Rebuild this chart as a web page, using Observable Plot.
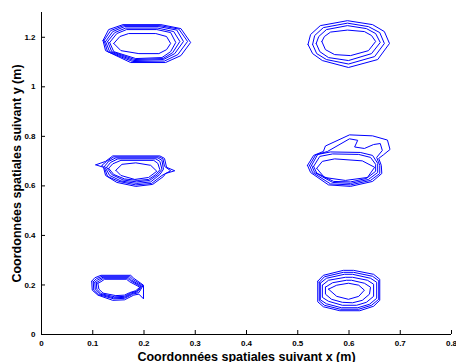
<!DOCTYPE html>
<html>
<head>
<meta charset="utf-8">
<script src="https://cdn.jsdelivr.net/npm/d3@7"></script>
<script src="https://cdn.jsdelivr.net/npm/@observablehq/plot@0.6"></script>
<style>
  html, body { margin: 0; padding: 0; background: #fff; }
  #chart svg { display: block; }
</style>
</head>
<body>
<div id="chart"></div>
<script>
// Tick values and labels
const xTicks = [0, 0.1, 0.2, 0.3, 0.4, 0.5, 0.6, 0.7, 0.8];
const xTickLabels = ["0", "0.1", "0.2", "0.3", "0.4", "0.5", "0.6", "0.7", "0.8"];
const yTicks = [0, 0.2, 0.4, 0.6, 0.8, 1, 1.2];
const yTickLabels = ["0", "0.2", "0.4", "0.6", "0.8", "1", "1.2"];
const xLabel = "Coordonnées spatiales suivant x (m)";
const yLabel = "Coordonnées spatiales suivant y (m)";

// Contour rings (x, y in metres), one array per cluster
const topLeftRings = [
  [[0.120,1.187],[0.125,1.146],[0.174,1.098],[0.242,1.098],[0.272,1.126],[0.291,1.179],[0.272,1.235],[0.233,1.251],[0.159,1.251],[0.131,1.231]],
  [[0.122,1.187],[0.129,1.142],[0.178,1.102],[0.240,1.104],[0.266,1.130],[0.285,1.183],[0.268,1.233],[0.231,1.247],[0.160,1.247],[0.135,1.227]],
  [[0.125,1.183],[0.133,1.142],[0.180,1.106],[0.238,1.110],[0.260,1.134],[0.277,1.183],[0.264,1.229],[0.229,1.243],[0.162,1.243],[0.139,1.223]],
  [[0.129,1.183],[0.137,1.142],[0.182,1.110],[0.237,1.114],[0.256,1.138],[0.270,1.183],[0.258,1.223],[0.227,1.237],[0.164,1.237],[0.143,1.219]],
  [[0.133,1.179],[0.141,1.142],[0.184,1.114],[0.235,1.118],[0.252,1.142],[0.262,1.179],[0.252,1.219],[0.225,1.231],[0.166,1.231],[0.147,1.215]],
  [[0.141,1.175],[0.155,1.146],[0.190,1.134],[0.229,1.134],[0.244,1.150],[0.252,1.175],[0.244,1.203],[0.223,1.215],[0.170,1.215],[0.153,1.203]]
];
const topRightRings = [
  [[0.520,1.171],[0.529,1.134],[0.548,1.106],[0.599,1.078],[0.656,1.110],[0.679,1.175],[0.669,1.223],[0.646,1.251],[0.597,1.267],[0.544,1.247],[0.525,1.211]],
  [[0.529,1.171],[0.537,1.134],[0.556,1.110],[0.599,1.092],[0.650,1.122],[0.669,1.175],[0.660,1.219],[0.638,1.243],[0.597,1.257],[0.550,1.239],[0.533,1.207]],
  [[0.536,1.175],[0.543,1.142],[0.560,1.118],[0.599,1.106],[0.644,1.134],[0.661,1.179],[0.652,1.215],[0.634,1.235],[0.597,1.247],[0.556,1.231],[0.541,1.203]],
  [[0.547,1.183],[0.554,1.150],[0.572,1.130],[0.603,1.126],[0.638,1.146],[0.652,1.183],[0.644,1.207],[0.630,1.223],[0.597,1.229],[0.564,1.221],[0.552,1.203]]
];
const midLeftRings = [
  [[0.106,0.685],[0.121,0.675],[0.125,0.642],[0.147,0.614],[0.184,0.598],[0.217,0.606],[0.238,0.638],[0.242,0.650],[0.260,0.661],[0.244,0.675],[0.240,0.711],[0.231,0.721],[0.139,0.721],[0.125,0.699]],
  [[0.118,0.683],[0.123,0.671],[0.129,0.638],[0.151,0.618],[0.184,0.604],[0.215,0.610],[0.235,0.642],[0.252,0.661],[0.240,0.679],[0.237,0.709],[0.229,0.717],[0.141,0.717],[0.127,0.699]],
  [[0.123,0.679],[0.133,0.642],[0.155,0.620],[0.186,0.610],[0.213,0.616],[0.231,0.646],[0.238,0.667],[0.235,0.703],[0.227,0.713],[0.145,0.713],[0.131,0.699]],
  [[0.127,0.675],[0.137,0.646],[0.159,0.624],[0.186,0.616],[0.211,0.622],[0.227,0.646],[0.235,0.667],[0.231,0.699],[0.223,0.709],[0.149,0.709],[0.135,0.695]],
  [[0.131,0.671],[0.141,0.646],[0.162,0.628],[0.188,0.622],[0.209,0.626],[0.223,0.646],[0.231,0.665],[0.227,0.691],[0.219,0.703],[0.155,0.703],[0.139,0.689]],
  [[0.145,0.663],[0.155,0.642],[0.182,0.626],[0.209,0.634],[0.225,0.659],[0.213,0.683],[0.184,0.693],[0.157,0.687]]
];
const midRightRings = [
  [[0.519,0.683],[0.531,0.723],[0.550,0.739],[0.554,0.761],[0.601,0.806],[0.646,0.802],[0.675,0.785],[0.680,0.747],[0.667,0.725],[0.658,0.711],[0.663,0.683],[0.664,0.650],[0.646,0.618],[0.603,0.598],[0.560,0.604],[0.525,0.654]],
  [[0.523,0.683],[0.535,0.725],[0.558,0.739],[0.601,0.790],[0.617,0.784],[0.611,0.757],[0.630,0.751],[0.648,0.767],[0.661,0.771],[0.665,0.743],[0.654,0.715],[0.660,0.683],[0.660,0.650],[0.642,0.622],[0.603,0.604],[0.564,0.608],[0.529,0.654]],
  [[0.527,0.683],[0.539,0.727],[0.564,0.737],[0.622,0.735],[0.646,0.723],[0.656,0.691],[0.656,0.654],[0.638,0.626],[0.603,0.610],[0.568,0.614],[0.533,0.654]],
  [[0.531,0.679],[0.543,0.719],[0.568,0.729],[0.619,0.727],[0.642,0.715],[0.652,0.687],[0.652,0.659],[0.634,0.630],[0.603,0.616],[0.570,0.618],[0.537,0.652]],
  [[0.537,0.671],[0.548,0.699],[0.572,0.709],[0.626,0.701],[0.650,0.675],[0.636,0.634],[0.593,0.622],[0.552,0.634]]
];
const bottomLeftRings = [
  [[0.098,0.215],[0.099,0.179],[0.110,0.159],[0.139,0.138],[0.162,0.140],[0.180,0.159],[0.190,0.163],[0.199,0.144],[0.199,0.199],[0.180,0.227],[0.174,0.239],[0.116,0.239],[0.104,0.229]],
  [[0.101,0.213],[0.102,0.179],[0.111,0.161],[0.141,0.144],[0.162,0.146],[0.178,0.163],[0.190,0.169],[0.198,0.197],[0.178,0.223],[0.172,0.235],[0.118,0.235],[0.107,0.225]],
  [[0.104,0.211],[0.105,0.181],[0.114,0.163],[0.141,0.148],[0.162,0.150],[0.176,0.165],[0.188,0.173],[0.196,0.195],[0.176,0.219],[0.170,0.231],[0.120,0.231],[0.110,0.221]],
  [[0.107,0.209],[0.108,0.183],[0.116,0.165],[0.143,0.152],[0.162,0.154],[0.174,0.167],[0.186,0.175],[0.194,0.193],[0.174,0.217],[0.168,0.227],[0.121,0.227],[0.113,0.217]],
  [[0.110,0.207],[0.112,0.183],[0.120,0.167],[0.145,0.157],[0.162,0.159],[0.172,0.169],[0.184,0.177],[0.192,0.191],[0.172,0.213],[0.166,0.223],[0.123,0.223],[0.116,0.213]]
];
const bottomRightRings = [
  [[0.539,0.215],[0.550,0.239],[0.589,0.259],[0.609,0.259],[0.648,0.243],[0.660,0.223],[0.660,0.138],[0.648,0.114],[0.621,0.096],[0.582,0.096],[0.550,0.112],[0.539,0.132]],
  [[0.542,0.211],[0.552,0.233],[0.589,0.251],[0.609,0.251],[0.646,0.235],[0.658,0.217],[0.658,0.142],[0.644,0.118],[0.619,0.102],[0.583,0.102],[0.552,0.118],[0.542,0.136]],
  [[0.544,0.207],[0.556,0.227],[0.591,0.243],[0.607,0.243],[0.642,0.227],[0.654,0.211],[0.654,0.146],[0.640,0.122],[0.617,0.108],[0.585,0.108],[0.556,0.124],[0.544,0.140]],
  [[0.548,0.199],[0.560,0.219],[0.593,0.231],[0.607,0.231],[0.636,0.219],[0.648,0.203],[0.648,0.154],[0.634,0.130],[0.615,0.118],[0.587,0.118],[0.560,0.134],[0.548,0.150]],
  [[0.554,0.191],[0.568,0.209],[0.595,0.219],[0.605,0.219],[0.630,0.207],[0.642,0.191],[0.640,0.163],[0.626,0.138],[0.607,0.128],[0.587,0.130],[0.566,0.142],[0.554,0.163]],
  [[0.560,0.183],[0.576,0.199],[0.599,0.207],[0.619,0.199],[0.630,0.179],[0.619,0.154],[0.599,0.142],[0.576,0.154]]
];

const clusters = [topLeftRings, topRightRings, midLeftRings, midRightRings, bottomLeftRings, bottomRightRings];
const rows = clusters.flatMap((rings, c) =>
  rings.flatMap((ring, r) =>
    [...ring, ring[0]].map(([x, y]) => ({x, y, ring: c + "-" + r}))
  )
);

const W = 456, H = 362;
const mL = 41, mR = 5, mT = 12, mB = 28;

const chart = Plot.plot({
  width: W,
  height: H,
  marginLeft: mL,
  marginRight: mR,
  marginTop: mT,
  marginBottom: mB,
  style: {fontFamily: "'Liberation Sans', Arial, Helvetica, sans-serif", background: "#fff", color: "#000"},
  x: {domain: [0, 0.8]},
  y: {domain: [0, 1.3]},
  marks: [
    Plot.line(rows, {x: "x", y: "y", z: "ring", stroke: "#0000ff", strokeWidth: 1, curve: "linear"}),
    Plot.ruleX([0], {stroke: "#000", strokeWidth: 1}),
    Plot.ruleY([0], {stroke: "#000", strokeWidth: 1}),
    Plot.tickX(xTicks, {x: d => d, insetTop: H - mT - mB - 4, stroke: "#000", strokeWidth: 1}),
    Plot.tickY(yTicks, {y: d => d, insetRight: W - mL - mR - 4, stroke: "#000", strokeWidth: 1}),
    Plot.axisX({ticks: xTicks, tickSize: 0, tickPadding: 6, tickFormat: d => xTickLabels[xTicks.indexOf(d)], fontSize: 8, fontWeight: "bold", label: null}),
    Plot.axisY({ticks: yTicks, tickSize: 0, tickPadding: 6, tickFormat: d => yTickLabels[yTicks.indexOf(d)], fontSize: 8, fontWeight: "bold", label: null}),
    Plot.text([xLabel], {frameAnchor: "bottom", dy: 22, textAnchor: "middle", lineAnchor: "middle", text: d => d, fontSize: 12.5, fontWeight: "bold", fill: "#000"}),
    Plot.text([yLabel], {frameAnchor: "left", dx: -25, textAnchor: "middle", lineAnchor: "middle", rotate: -90, text: d => d, fontSize: 12.5, fontWeight: "bold", fill: "#000"})
  ]
});
document.getElementById("chart").appendChild(chart);
</script>
</body>
</html>
